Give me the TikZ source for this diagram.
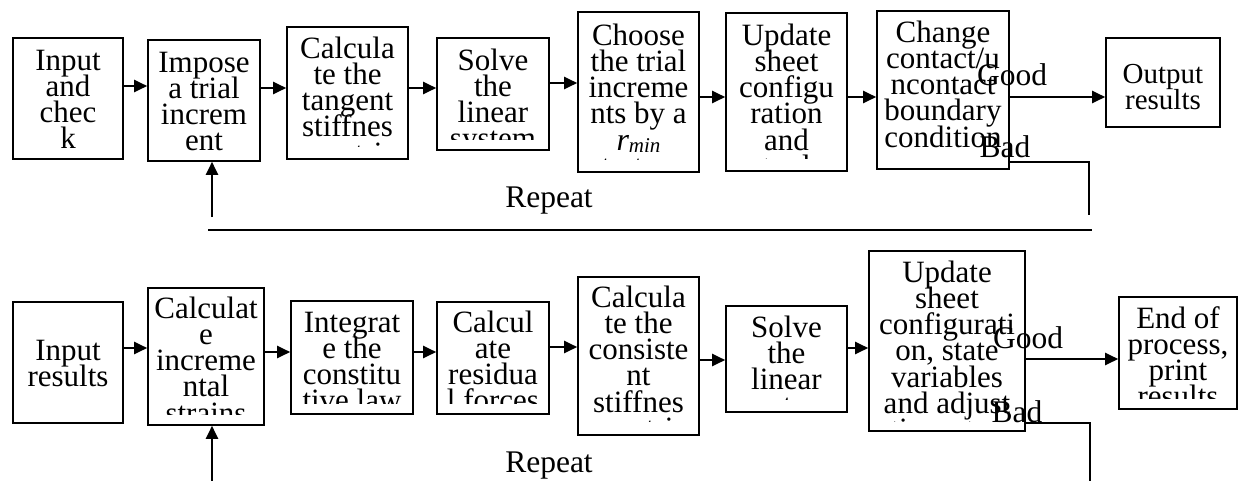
\documentclass[tikz,border=0pt]{standalone}
\usepackage{fontspec}
\setmainfont{Liberation Serif}
\usetikzlibrary{arrows.meta,fit}
\newcommand\btext[1]{\vtop{\baselineskip=26.3pt\lineskiplimit=-100pt\lineskip=0pt\halign{\hfil##\hfil\cr#1\crcr}}}
\newcommand\rmin{{\fontsize{32}{32}\selectfont\itshape r\raisebox{-2pt}{\fontsize{21}{21}\selectfont min}}}
\tikzset{
  boxst/.style={draw, line width=1.6pt, inner sep=0pt},
  txt/.style={inner sep=0pt, anchor=base, font=\fontsize{31}{26.3}\selectfont},
  lab/.style={inner sep=0pt, anchor=base, font=\fontsize{31.5}{31.5}\selectfont},
  arr/.style={line width=2pt, -{Triangle[length=13pt,width=12pt]}},
  thin/.style={line width=1.3pt},
}
% name, x1, y1, x2, y2, first-baseline offset, clip bottom, text
\newcommand\flowbox[8]{%
  \node[boxst, fit={(#2,#3) (#4,#5)}] (#1) {};
  \begin{scope}
    \clip (#2+1,#3) rectangle (#4-1,#7);
    \node[txt] (#1t) at ({(#2+#4)/2},#3+#6) {\btext{#8}};
  \end{scope}}
\begin{document}
\begin{tikzpicture}[x=1pt,y=-1pt]
\useasboundingbox (0,0) rectangle (1238,480);
% ---- top row
\flowbox{b1}{13}{38}{123}{159}{32}{148}{Input\cr and\cr chec\cr k}
\flowbox{b2}{148}{40}{260}{161}{32}{151}{Impose\cr a trial\cr increm\cr ent}
\flowbox{b3}{287}{27}{408}{159}{31}{146}{Calcula\cr te the\cr tangent\cr stiffnes\cr s matrix}
\flowbox{b4}{437}{38}{549}{150}{32}{139}{Solve\cr the\cr linear\cr system}
\flowbox{b5}{578}{12}{699}{172}{33}{159.5}{Choose\cr the trial\cr increme\cr nts by a\cr \rmin\cr strategy}
\flowbox{b6}{726}{13}{847}{171}{32}{158}{Update\cr sheet\cr configu\cr ration\cr and\cr tool}
\flowbox{b7}{877}{11}{1009}{169}{31}{158}{Change\cr contact/u\cr ncontact\cr boundary\cr condition}
\node[boxst, fit={(1106,38) (1220,127)}] (b8) {};
\node[txt, font=\fontsize{29}{26}\selectfont] (b8t) at (1163,83) {\btext{Output\cr results}};
% ---- bottom row
\flowbox{c1}{13}{302}{123}{423}{58}{412}{Input\cr results}
\flowbox{c2}{148}{288}{264}{425}{30}{414}{Calculat\cr e\cr increme\cr ntal\cr strains}
\flowbox{c3}{291}{301}{413}{414}{31}{403}{Integrat\cr e the\cr constitu\cr tive law}
\flowbox{c4}{437}{302}{549}{414}{30}{403}{Calcul\cr ate\cr residua\cr l forces}
\flowbox{c5}{578}{277}{699}{435}{30}{421}{Calcula\cr te the\cr consiste\cr nt\cr stiffnes\cr s matrix}
\flowbox{c6}{726}{306}{847}{412}{31}{399}{Solve\cr the\cr linear\cr system}
\flowbox{c7}{869}{251}{1025}{431}{31}{421}{Update\cr sheet\cr configurati\cr on, state\cr variables\cr and adjust\cr time step}
\flowbox{c8}{1119}{297}{1237}{409}{31}{398}{End of\cr process,\cr print\cr results}
% ---- top arrows
\draw[arr] (b1.east |- 0,86) -- (b2.west |- 0,86);
\draw[arr] (b2.east |- 0,88) -- (b3.west |- 0,88);
\draw[arr] (b3.east |- 0,88) -- (b4.west |- 0,88);
\draw[arr] (b4.east |- 0,83) -- (b5.west |- 0,83);
\draw[arr] (b5.east |- 0,97) -- (b6.west |- 0,97);
\draw[arr] (b6.east |- 0,97) -- (b7.west |- 0,97);
\draw[arr] (b7.east |- 0,97) -- (b8.west |- 0,97);
\node[lab] (good1) at (1012,85) {Good};
\node[lab] (bad1) at (1005,157) {Bad};
\coordinate (bd1) at (1089,215);
\draw[thin] (b7.east |- 0,162) -| (bd1);
% ---- repeat loop (top)
\coordinate (h1) at (208,230);
\coordinate (h2) at (1092,230);
\draw[line width=1.8pt] (h1) -- (h2);
\coordinate (r1) at (212,217);
\draw[arr] (r1) -- (b2.south -| r1);
\node[lab] (rep1) at (549,207) {Repeat};
% ---- bottom arrows
\draw[arr] (c1.east |- 0,348) -- (c2.west |- 0,348);
\draw[arr] (c2.east |- 0,352) -- (c3.west |- 0,352);
\draw[arr] (c3.east |- 0,352) -- (c4.west |- 0,352);
\draw[arr] (c4.east |- 0,347) -- (c5.west |- 0,347);
\draw[arr] (c5.east |- 0,360) -- (c6.west |- 0,360);
\draw[arr] (c6.east |- 0,348) -- (c7.west |- 0,348);
\draw[arr] (c7.east |- 0,359) -- (c8.west |- 0,359);
\node[lab] (good2) at (1028,348) {Good};
\node[lab] (bad2) at (1017,422) {Bad};
\coordinate (bd2) at (1090,482);
\draw[thin] (c7.east |- 0,423) -| (bd2);
\coordinate (r2) at (212,482);
\draw[arr] (r2) -- (c2.south -| r2);
\node[lab] (rep2) at (549,472) {Repeat};
\end{tikzpicture}
\end{document}
